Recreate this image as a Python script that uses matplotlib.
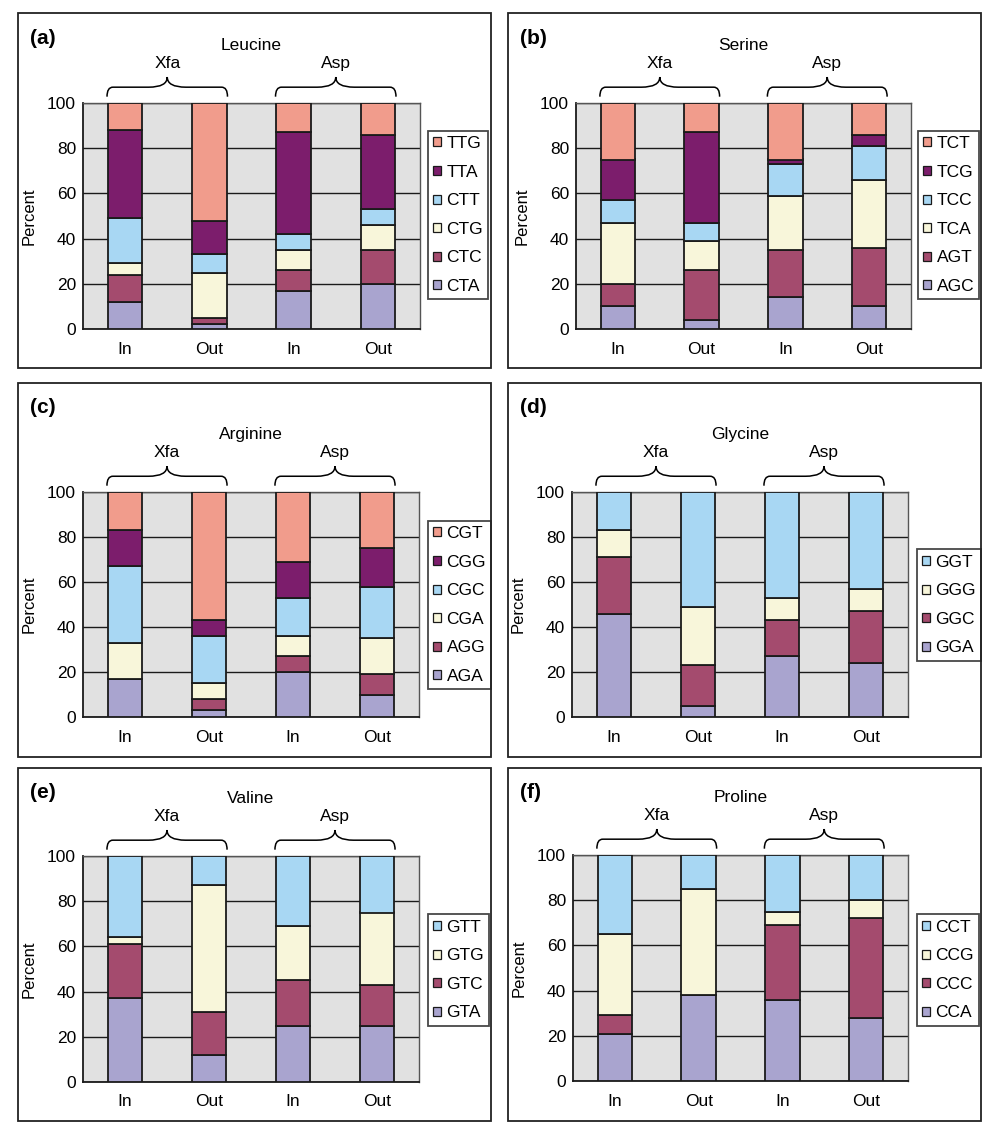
import matplotlib
matplotlib.use("Agg")
import matplotlib.pyplot as plt
from matplotlib.path import Path
from matplotlib.patches import PathPatch, Rectangle
from matplotlib.transforms import blended_transform_factory

plt.rcParams['font.family'] = ['Liberation Sans', 'DejaVu Sans']

# ---- data (columns: Xfa In, Xfa Out, Asp In, Asp Out) ----
bar_labels = ['In', 'Out', 'In', 'Out']
group_labels = ['Xfa', 'Asp']

leucine_codons = ['CTA', 'CTC', 'CTG', 'CTT', 'TTA', 'TTG']
leucine_values = [
    [12, 2, 17, 20],
    [12, 3, 9, 15],
    [5, 20, 9, 11],
    [20, 8, 7, 7],
    [39, 15, 45, 33],
    [12, 52, 13, 14],
]

serine_codons = ['AGC', 'AGT', 'TCA', 'TCC', 'TCG', 'TCT']
serine_values = [
    [10, 4, 14, 10],
    [10, 22, 21, 26],
    [27, 13, 24, 30],
    [10, 8, 14, 15],
    [18, 40, 2, 5],
    [25, 13, 25, 14],
]

arginine_codons = ['AGA', 'AGG', 'CGA', 'CGC', 'CGG', 'CGT']
arginine_values = [
    [17, 3, 20, 10],
    [0, 5, 7, 9],
    [16, 7, 9, 16],
    [34, 21, 17, 23],
    [16, 7, 16, 17],
    [17, 57, 31, 25],
]

glycine_codons = ['GGA', 'GGC', 'GGG', 'GGT']
glycine_values = [
    [46, 5, 27, 24],
    [25, 18, 16, 23],
    [12, 26, 10, 10],
    [17, 51, 47, 43],
]

valine_codons = ['GTA', 'GTC', 'GTG', 'GTT']
valine_values = [
    [37, 12, 25, 25],
    [24, 19, 20, 18],
    [3, 56, 24, 32],
    [36, 13, 31, 25],
]

proline_codons = ['CCA', 'CCC', 'CCG', 'CCT']
proline_values = [
    [21, 38, 36, 28],
    [8, 0, 33, 44],
    [36, 47, 6, 8],
    [35, 15, 25, 20],
]

panel_letters = ['(a)', '(b)', '(c)', '(d)', '(e)', '(f)']
panel_titles = ['Leucine', 'Serine', 'Arginine', 'Glycine', 'Valine', 'Proline']

# ---- style ----
LAV, MAR, CRM, LBL, PUR, SAL = '#A9A4CF', '#A44B6E', '#F8F6DA', '#A8D7F3', '#7C1D6C', '#F19C8C'
colors6 = [LAV, MAR, CRM, LBL, PUR, SAL]
colors4 = [LAV, MAR, CRM, LBL]
BG = '#E1E1E1'

W, H = 1000, 1147
fig = plt.figure(figsize=(W / 100, H / 100), dpi=100)


def fx(x):
    return x / W


def fy(y):
    return 1 - y / H


# panel layout in pixels: box (x0, y0, x1, y1), axes (x0, y0, x1, y1), legend (left, center y)
layout = [
    dict(box=(18, 13, 491, 368), ax=(83, 103, 420, 329), leg=(428, 215)),
    dict(box=(508, 13, 981, 368), ax=(576, 103, 911, 329), leg=(918, 215)),
    dict(box=(18, 383, 491, 757), ax=(83, 492, 419, 717), leg=(428, 605)),
    dict(box=(508, 383, 981, 757), ax=(572, 492, 908, 717), leg=(917, 605)),
    dict(box=(18, 768, 491, 1121), ax=(83, 856, 419, 1082), leg=(428, 970)),
    dict(box=(508, 768, 981, 1121), ax=(573, 855, 908, 1081), leg=(917, 970)),
]

datasets = [
    (leucine_codons, leucine_values),
    (serine_codons, serine_values),
    (arginine_codons, arginine_values),
    (glycine_codons, glycine_values),
    (valine_codons, valine_values),
    (proline_codons, proline_values),
]


def brace(ax, x0, x1, yb=1.028, ya=1.07, yt=1.115):
    xm = (x0 + x1) / 2
    de, dm = 0.07, 0.22
    verts = [(x0, yb), (x0, ya), (x0 + de, ya),
             (xm - dm, ya),
             (xm, ya), (xm, yt),
             (xm, ya), (xm + dm, ya),
             (x1 - de, ya),
             (x1, ya), (x1, yb)]
    codes = [Path.MOVETO, Path.CURVE3, Path.CURVE3,
             Path.LINETO,
             Path.CURVE3, Path.CURVE3,
             Path.CURVE3, Path.CURVE3,
             Path.LINETO,
             Path.CURVE3, Path.CURVE3]
    tr = blended_transform_factory(ax.transData, ax.transAxes)
    ax.add_patch(PathPatch(Path(verts, codes), transform=tr, fill=False,
                           lw=1.1, edgecolor='black', clip_on=False))


x = list(range(len(bar_labels)))
bw = 0.41

for i, (lay, (codons, values)) in enumerate(zip(layout, datasets)):
    bx0, by0, bx1, by1 = lay['box']
    fig.patches.append(Rectangle((fx(bx0), fy(by1)), fx(bx1 - bx0), (by1 - by0) / H,
                                 transform=fig.transFigure, fill=False,
                                 edgecolor='#222222', lw=1.3))
    ax0, ay0, ax1, ay1 = lay['ax']
    ax = fig.add_axes([fx(ax0), fy(ay1), fx(ax1 - ax0), (ay1 - ay0) / H])
    ax.set_facecolor(BG)
    cols = colors6 if len(codons) == 6 else colors4
    bottom = [0] * len(x)
    handles = []
    for codon, vals, c in zip(codons, values, cols):
        h = ax.bar(x, vals, bw, bottom=bottom, color=c, edgecolor='#1a1a1a',
                   linewidth=1.3, label=codon, zorder=3)
        handles.append(h)
        bottom = [b + v for b, v in zip(bottom, vals)]
    ax.set_xlim(-0.5, len(x) - 0.5)
    ax.set_ylim(0, 100)
    ax.set_yticks([0, 20, 40, 60, 80, 100])
    ax.set_xticks(x)
    ax.set_xticklabels(bar_labels)
    ax.tick_params(length=0, labelsize=12.5)
    ax.tick_params(axis='x', pad=9)
    ax.tick_params(axis='y', pad=5)
    ax.yaxis.grid(True, color='#1a1a1a', lw=1.0)
    ax.set_axisbelow(True)
    for s in ['top', 'right']:
        ax.spines[s].set_color('#555555')
        ax.spines[s].set_linewidth(1.0)
    for s in ['left', 'bottom']:
        ax.spines[s].set_color('#1a1a1a')
        ax.spines[s].set_linewidth(1.3)
    ax.set_ylabel('Percent', fontsize=12)
    ax.yaxis.set_label_coords(-46 / (ax1 - ax0), 0.5)

    # braces and group labels
    for g, (a, b) in enumerate([(0, 1), (2, 3)]):
        brace(ax, a - bw / 2 - 0.01, b + bw / 2 + 0.01)
        ax.text((a + b) / 2, 1.175, group_labels[g], transform=blended_transform_factory(ax.transData, ax.transAxes),
                ha='center', va='center', fontsize=12.5)
    ax.text(0.5, 1.255, panel_titles[i], transform=ax.transAxes, ha='center', va='center', fontsize=12.5)
    fig.text(fx(bx0 + 12), fy(by0 + 25), panel_letters[i], fontsize=15, fontweight='bold',
             ha='left', va='center')

    lx, ly = lay['leg']
    leg = ax.legend(handles[::-1], codons[::-1], loc='center left',
                    bbox_to_anchor=(fx(lx), fy(ly)), bbox_transform=fig.transFigure,
                    fontsize=12.5, frameon=True, fancybox=False, handlelength=0.42,
                    handleheight=0.42, handletextpad=0.35, labelspacing=0.78,
                    borderpad=0.3, borderaxespad=0)
    leg.get_frame().set_edgecolor('#1a1a1a')
    leg.get_frame().set_linewidth(1.3)
    leg.get_frame().set_facecolor('white')
    for p in leg.get_patches():
        p.set_linewidth(0.9)

fig.savefig('out.png', dpi=100, facecolor='white')
